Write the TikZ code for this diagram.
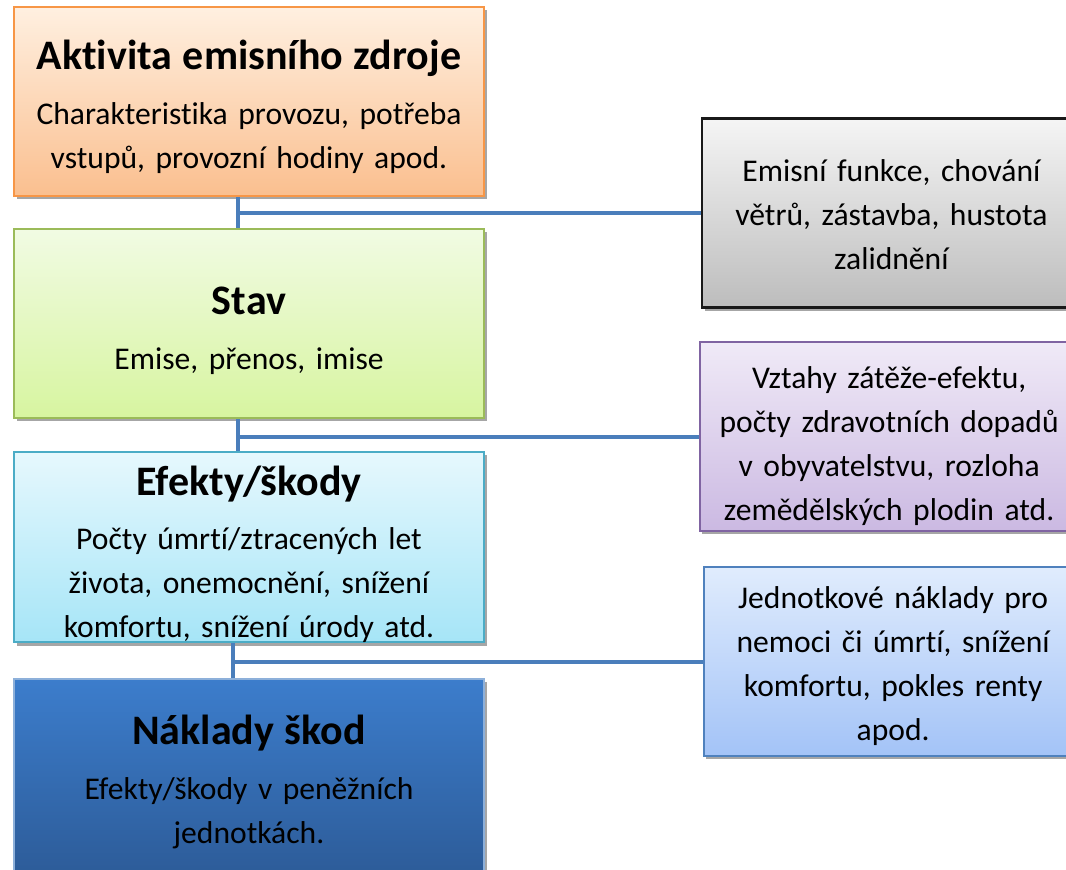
\documentclass[tikz,border=0pt]{standalone}
\usepackage{fontspec}
\setmainfont{Carlito}[Ligatures={NoCommon}]
\usetikzlibrary{shadows}

\definecolor{linkblue}{HTML}{4A7EBB}
\definecolor{orangeline}{HTML}{F79646}
\definecolor{greenline}{HTML}{9BBB59}
\definecolor{cyanline}{HTML}{4BACC6}
\definecolor{navyline}{HTML}{8DB0DA}
\definecolor{purpleline}{HTML}{8064A2}
\definecolor{blueline}{HTML}{4F81BD}

\newcommand{\titlefont}{\fontsize{31.5}{38}\selectfont\bfseries}
\newcommand{\bodyfont}{\fontsize{23.7}{33}\selectfont}

\begin{document}
\begin{tikzpicture}[x=0.75pt, y=-0.75pt,
    box/.style={rectangle, draw, line width=1.2pt, inner sep=0pt, align=center, font=\bodyfont,
        minimum height=141.75pt,
        drop shadow={shadow xshift=2pt, shadow yshift=-2.5pt, fill=black!35, opacity=1}},
    pad/.style={execute at begin node={\rule{0pt}{#1}}},
    stage/.style={box, minimum width=352.5pt, text width=340pt},
    factor/.style={box, anchor=west, minimum width=284pt, text width=270pt},
    link/.style={draw=linkblue, line width=3pt}]
    \path[use as bounding box] (0,0) rectangle (1066,869);
    \clip (0,0) rectangle (1066,869);

    % stages of the chain
    \node[stage, pad=30pt, draw=orangeline, top color=orange!12, bottom color={rgb,255:red,250;green,191;blue,143}] (aktivita) at (249,101.5)
        {{\titlefont Aktivita emisního zdroje}\\[8pt] Charakteristika provozu, potřeba\\ vstupů, provozní hodiny apod.};
    \node[stage, pad=32pt, draw=greenline, top color={rgb,255:red,241;green,251;blue,227}, bottom color={rgb,255:red,215;green,245;blue,160}] (stav) at (249,323.5)
        {{\titlefont Stav}\\[8pt] Emise, přenos, imise};
    \node[stage, pad=33pt, draw=cyanline, top color={rgb,255:red,230;green,248;blue,253}, bottom color={rgb,255:red,166;green,229;blue,247}] (efekty) at (249,547)
        {{\titlefont Efekty/škody}\\[7pt] Počty úmrtí/ztracených let\\ života, onemocnění, snížení\\ komfortu, snížení úrody atd.};
    \node[stage, minimum height=154.5pt, draw=navyline, top color={rgb,255:red,60;green,125;blue,204}, bottom color={rgb,255:red,44;green,90;blue,150}] (naklady) at (249,782)
        {{\titlefont Náklady škod}\\[8pt] Efekty/škody v peněžních\\ jednotkách.};

    % factors on the right
    \node[factor, pad=19pt, draw=black!90, line width=1.6pt, top color=black!4, bottom color=black!26] (sireni) at (701,213)
        {Emisní funkce, chování\\ větrů, zástavba, hustota\\ zalidnění};
    \node[factor, pad=31pt, draw=purpleline, top color={rgb,255:red,240;green,234;blue,247}, bottom color={rgb,255:red,203;green,185;blue,226}] (vztahy) at (699,436.5)
        {Vztahy zátěže-efektu,\\ počty zdravotních dopadů\\ v obyvatelstvu, rozloha\\ zemědělských plodin atd.};
    \node[factor, pad=23pt, draw=blueline, top color={rgb,255:red,224;green,236;blue,253}, bottom color={rgb,255:red,163;green,195;blue,247}] (ceny) at (703,661.5)
        {Jednotkové náklady pro\\ nemoci či úmrtí, snížení\\ komfortu, pokles renty\\ apod.};

    % connectors
    \coordinate (j1) at (238,213);
    \coordinate (j2) at (238,436.5);
    \coordinate (j3) at (233,661.5);
    \draw[link] (aktivita.south -| j1) -- (stav.north -| j1) (j1) -- (sireni.west);
    \draw[link] (stav.south -| j2) -- (efekty.north -| j2) (j2) -- (vztahy.west);
    \draw[link] (efekty.south -| j3) -- (naklady.north -| j3) (j3) -- (ceny.west);
\end{tikzpicture}
\end{document}
